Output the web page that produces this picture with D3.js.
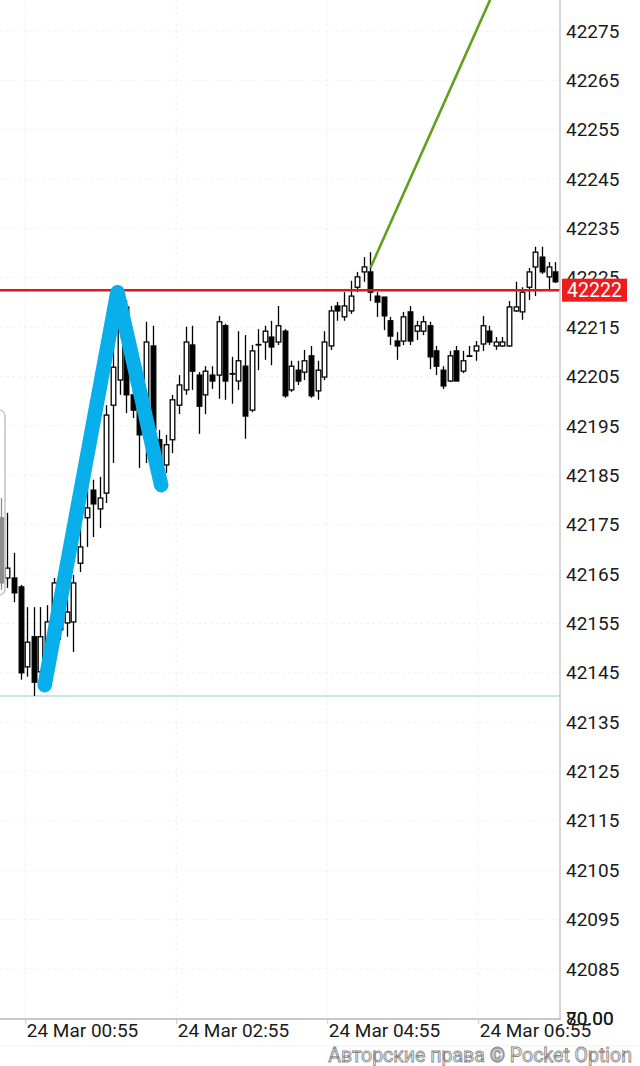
<!DOCTYPE html>
<html><head><meta charset="utf-8">
<script src="https://cdn.jsdelivr.net/npm/d3@7"></script>
<style>html,body{margin:0;padding:0;background:#fff;}svg{display:block;font-family:Roboto,"Noto Sans",sans-serif;}</style>
</head><body>
<script>
// ---- data ----
const opens = [
42176.4,42164.2,42164.2,42162.4,42146.2,42152.3,42145.2,42146.6,42151.7,42153.7,
42155.1,42155.3,42167.2,42176.4,42182.0,42178.2,42181.4,42199.2,42204.3,42219.1,
42201.3,42200.9,42195.6,42211.2,42192.2,42187.1,42192.2,42199.2,42202.3,42211.4,
42205.3,42201.3,42205.3,42205.3,42215.3,42205.5,42204.1,42207.1,42198.2,42211.4,
42212.0,42213.0,42212.0,42214.2,42202.3,42206.3,42205.9,42209.2,42202.1,42204.9,
42211.2,42219.3,42217.1,42218.3,42223.1,42226.2,42226.2,42221.3,42221.1,42216.3,
42212.2,42212.2,42218.1,42214.2,42214.2,42215.3,42210.2,42206.3,42204.1,42210.2,
42206.1,42209.2,42210.2,42211.6,42214.2,42211.2,42211.2,42211.2,42218.3,42218.1,
42223.1,42227.2,42229.2,42225.2,42226.2];
const closes = [
42163.2,42166.2,42161.2,42145.0,42151.2,42143.1,42152.3,42155.3,42163.2,42159.8,
42157.3,42163.2,42170.5,42178.4,42179.2,42180.4,42197.2,42206.9,42219.1,42201.3,
42198.2,42193.2,42212.0,42194.2,42188.1,42191.2,42200.3,42203.3,42212.0,42206.1,
42199.0,42206.1,42204.1,42216.1,42204.1,42205.6,42208.2,42197.0,42210.2,42211.5,
42214.2,42211.0,42215.3,42201.1,42207.1,42204.1,42208.2,42201.1,42206.3,42212.0,
42218.3,42218.3,42219.3,42221.3,42225.2,42227.2,42222.1,42220.1,42217.3,42213.2,
42211.2,42217.1,42212.2,42215.3,42216.1,42209.0,42207.1,42203.1,42209.2,42204.1,
42208.2,42209.1,42211.2,42215.3,42212.0,42212.0,42212.0,42219.1,42219.1,42222.1,
42226.2,42230.2,42226.2,42227.2,42224.2];
const highs = [
42180.4,42177.4,42169.3,42162.8,42158.3,42158.3,42158.3,42158.7,42164.2,42162.2,
42160.2,42164.8,42176.4,42184.7,42184.1,42184.7,42199.2,42216.1,42221.1,42220.5,
42202.3,42202.3,42216.1,42215.3,42194.2,42193.2,42201.3,42205.3,42215.1,42215.3,
42205.9,42207.1,42207.1,42217.3,42215.7,42209.0,42214.2,42213.4,42211.4,42214.6,
42215.3,42216.3,42219.3,42214.6,42208.2,42208.2,42210.4,42211.2,42208.2,42214.2,
42219.3,42220.1,42222.1,42224.4,42226.2,42229.2,42230.2,42222.1,42221.1,42217.1,
42214.0,42218.1,42219.3,42216.3,42217.3,42216.1,42211.2,42207.1,42210.2,42211.2,
42210.2,42211.2,42212.2,42217.3,42215.3,42213.0,42213.0,42220.3,42224.2,42223.1,
42227.0,42231.3,42231.3,42228.2,42228.2];
const lows = [
42161.8,42162.2,42159.3,42143.6,42144.2,42140.3,42143.6,42145.2,42150.0,42151.7,
42152.3,42149.2,42165.4,42170.5,42172.5,42174.3,42179.4,42187.5,42201.3,42197.6,
42196.6,42186.5,42187.5,42192.2,42186.1,42185.5,42189.5,42197.4,42201.3,42202.3,
42193.4,42197.4,42202.5,42200.5,42200.3,42199.5,42202.3,42192.4,42197.8,42206.3,
42208.4,42207.3,42211.4,42200.7,42201.9,42203.3,42204.3,42200.7,42200.3,42204.3,
42210.4,42216.3,42216.3,42217.7,42222.1,42224.2,42220.3,42217.1,42214.4,42211.4,
42208.4,42211.4,42211.4,42212.4,42213.4,42206.5,42205.3,42202.5,42203.9,42204.1,
42205.7,42209.0,42208.2,42210.2,42211.4,42210.4,42211.0,42211.0,42218.1,42216.5,
42220.5,42221.3,42225.8,42222.5,42224.0];

const yTickValues = [42275,42265,42255,42245,42235,42225,42215,42205,42195,42185,42175,42165,42155,42145,42135,42125,42115,42105,42095,42085];
const xTickTimes = ["2024-03-24T00:55","2024-03-24T02:55","2024-03-24T04:55","2024-03-24T06:55"];
const xTickLabels = ["24 Mar 00:55","24 Mar 02:55","24 Mar 04:55","24 Mar 06:55"];

const resistanceLevel = 42222.5;   // red horizontal
const resistanceLabel = "42222";
const supportLevel = 42140.3;      // thin teal horizontal
const trendIdx = [56, 76];         // green trend line (candle index)
const trendPrice = [42227.0, 42286.9];
const zigIdx = [6.65, 17.67, 24.3]; // blue drawn zig-zag (candle index)
const zigPrice = [42142.5, 42222.1, 42183.0];

// ---- layout ----
const W = 640, H = 1066, plotR = 560, plotB = 1019;
const svg = d3.select("body").append("svg").attr("width", W).attr("height", H);

const x = d3.scaleLinear().domain([0, 84]).range([0.8, 555.2]);
const y = d3.scaleLinear().domain([42085, 42275]).range([969, 31]);
const parse = d3.timeParse("%Y-%m-%dT%H:%M");
const tx = d3.scaleTime().domain([parse(xTickTimes[0]), parse(xTickTimes[3])]).range([25.3, 478.2]);

// grid
const grid = svg.append("g");
grid.selectAll("line.h").data(yTickValues).join("line")
  .attr("x1", 0).attr("x2", plotR).attr("y1", d => y(d)).attr("y2", d => y(d))
  .attr("stroke", "#f1f1f1").attr("stroke-dasharray", "3,3");
grid.selectAll("line.v").data(xTickTimes).join("line")
  .attr("x1", d => tx(parse(d))).attr("x2", d => tx(parse(d))).attr("y1", 0).attr("y2", plotB)
  .attr("stroke", "#f1f1f1").attr("stroke-dasharray", "3,3");

// support line
svg.append("line").attr("x1", 0).attr("x2", plotR).attr("y1", y(supportLevel)).attr("y2", y(supportLevel))
  .attr("stroke", "#8fcbd8").attr("stroke-width", 1);

// candles
const idx = d3.range(opens.length);
const bw = 4.6;
const cg = svg.append("g");
cg.selectAll("line.wick").data(idx).join("line")
  .attr("x1", i => Math.round(x(i)) + 0.5).attr("x2", i => Math.round(x(i)) + 0.5)
  .attr("y1", i => y(highs[i])).attr("y2", i => y(lows[i]))
  .attr("stroke", "#000").attr("stroke-width", 1.3);
cg.selectAll("rect.body").data(idx).join("rect")
  .attr("x", i => Math.round(x(i)) + 0.5 - bw / 2)
  .attr("y", i => y(Math.max(opens[i], closes[i])))
  .attr("width", bw)
  .attr("height", i => Math.max(0.3, Math.abs(y(opens[i]) - y(closes[i]))))
  .attr("fill", i => closes[i] >= opens[i] ? "#fff" : "#000")
  .attr("stroke", "#000").attr("stroke-width", 1.3);

// left panel overlay
svg.append("rect").attr("x", -20).attr("y", 410).attr("width", 25).attr("height", 185).attr("rx", 6)
  .attr("fill", "rgba(255,255,255,0.55)").attr("stroke", "#c4c4c4").attr("stroke-width", 1.5);

// red resistance line
svg.append("line").attr("x1", 0).attr("x2", plotR).attr("y1", y(resistanceLevel)).attr("y2", y(resistanceLevel))
  .attr("stroke", "#e3141b").attr("stroke-width", 2.5);

// green trend line
svg.append("line")
  .attr("x1", x(trendIdx[0])).attr("y1", y(trendPrice[0]))
  .attr("x2", x(trendIdx[1])).attr("y2", y(trendPrice[1]))
  .attr("stroke", "#62a01c").attr("stroke-width", 2.6);

// blue zig-zag
svg.append("path")
  .attr("d", d3.line().x((d, i) => x(zigIdx[i])).y((d, i) => y(zigPrice[i]))(zigIdx))
  .attr("fill", "none").attr("stroke", "#07b0ea").attr("stroke-width", 14.5)
  .attr("stroke-linecap", "round").attr("stroke-linejoin", "round");

// axes frame
svg.append("line").attr("x1", plotR).attr("x2", plotR).attr("y1", 0).attr("y2", plotB)
  .attr("stroke", "#c8c8c8").attr("stroke-width", 1.5);
svg.append("line").attr("x1", 0).attr("x2", plotR + 1).attr("y1", plotB).attr("y2", plotB)
  .attr("stroke", "#c8c8c8").attr("stroke-width", 2);

// y axis
const ya = svg.append("g").attr("transform", `translate(${plotR},0)`)
  .call(d3.axisRight(y).tickValues(yTickValues).tickSize(0).tickPadding(6).tickFormat(d3.format("d")));
ya.select(".domain").remove();
ya.selectAll("text").attr("font-size", 19).attr("fill", "#1a1a1a").attr("font-family", "Roboto");

// bottom-corner overlapped labels
svg.append("text").attr("x", 566).attr("y", 1018).attr("dy", "0.35em").attr("font-size", 19)
  .attr("fill", "#1a1a1a").text("70.00");
svg.append("text").attr("x", 566).attr("y", 1018).attr("dy", "0.35em").attr("font-size", 19)
  .attr("fill", "#1a1a1a").text("80.00");

// price tag
const tagY = y(resistanceLevel);
svg.append("rect").attr("x", 562).attr("y", tagY - 11.5).attr("width", 65).attr("height", 23).attr("fill", "#ee1c1c");
svg.append("text").attr("x", 594.5).attr("y", tagY).attr("dy", "0.36em").attr("text-anchor", "middle")
  .attr("font-size", 19.5).attr("fill", "#fff").text(resistanceLabel);

// x axis
const xa = svg.append("g").attr("transform", `translate(0,${plotB})`)
  .call(d3.axisBottom(tx).tickValues(xTickTimes.map(parse)).tickSize(5).tickPadding(4)
    .tickFormat((d, i) => xTickLabels[i]));
xa.select(".domain").remove();
xa.selectAll(".tick line").attr("stroke", "#c8c8c8");
xa.selectAll("text").attr("text-anchor", "start").attr("dx", 1).attr("y", 4)
  .attr("font-size", 19).attr("fill", "#1a1a1a").attr("font-family", "Roboto");

// footer
svg.append("line").attr("x1", 0).attr("x2", W).attr("y1", 1046).attr("y2", 1046).attr("stroke", "#efefef");
svg.append("text").attr("x", 632).attr("y", 1062).attr("text-anchor", "end").attr("font-size", 19.5)
  .attr("fill", "#fff").attr("stroke", "#8a8a8a").attr("stroke-width", 0.9)
  .text("Авторские права © Pocket Option");
</script>
</body></html>
